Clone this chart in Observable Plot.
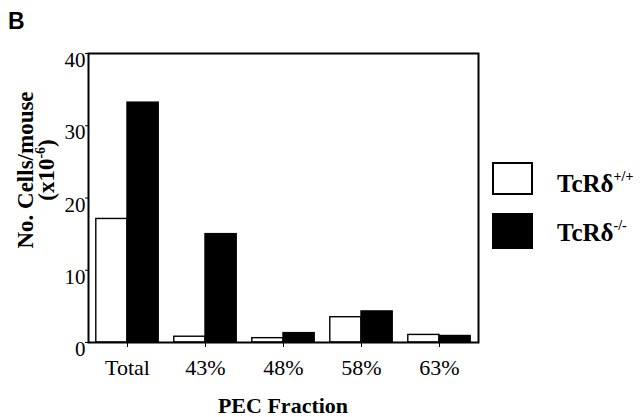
<!DOCTYPE html>
<html>
<head>
<meta charset="utf-8">
<script src="https://cdn.jsdelivr.net/npm/d3@7"></script>
<script src="https://cdn.jsdelivr.net/npm/@observablehq/plot@0.6"></script>
<style>
  html, body { margin: 0; padding: 0; background: white; }
</style>
</head>
<body>
<div id="chart"></div>
<script>
const categories = ["Total", "43%", "48%", "58%", "63%"];
const genotypes = ["+/+", "-/-"];
const wildType = [17.1, 0.8, 0.6, 3.5, 1.05];
const knockout = [33.2, 15.0, 1.3, 4.3, 0.9];
const yTicks = [0, 10, 20, 30, 40];

const rows = [];
categories.forEach((c, i) => {
  rows.push({i, cat: c, geno: genotypes[0], value: wildType[i]});
  rows.push({i, cat: c, geno: genotypes[1], value: knockout[i]});
});
const half = 0.4;

const plot = Plot.plot({
  width: 640,
  height: 417,
  marginLeft: 88,
  marginRight: 162,
  marginTop: 53,
  marginBottom: 75,
  style: {fontFamily: "Liberation Serif", fontSize: "22px", background: "white", color: "black"},
  x: {type: "linear", domain: [-0.5, categories.length - 0.5]},
  y: {domain: [0, 40]},
  color: {domain: genotypes, range: ["white", "black"]},
  marks: [
    Plot.rectY(rows, {
      x1: d => d.geno === genotypes[0] ? d.i - half : d.i,
      x2: d => d.geno === genotypes[0] ? d.i : d.i + half,
      y: "value",
      fill: "geno",
      stroke: "black",
      strokeWidth: 1.4
    }),
    Plot.frame({stroke: "black", strokeWidth: 2}),
    Plot.axisX({
      ticks: categories.map((c, i) => i),
      tickFormat: i => categories[i],
      tickSize: 5,
      tickPadding: 12,
      label: null,
      fontSize: 22
    }),
    Plot.axisY({ticks: yTicks, tickSize: 3, tickFormat: () => "", label: null}),
    Plot.axisY({ticks: yTicks, tickSize: 0, tickPadding: 3, dy: 7, label: null, fontSize: 21})
  ]
});

const svg = d3.select(plot);

// Panel letter
svg.append("text")
  .attr("x", 8).attr("y", 29)
  .attr("text-anchor", "start")
  .attr("font-family", "Liberation Sans").attr("font-weight", "bold")
  .attr("font-size", 23).attr("fill", "black")
  .text("B");

// Y label (two lines)
const yl = svg.append("g").attr("transform", "translate(0,170) rotate(-90)")
  .attr("font-family", "Liberation Serif").attr("font-weight", "bold")
  .attr("font-size", 23).attr("fill", "black").attr("text-anchor", "middle");
yl.append("text").attr("x", 0).attr("y", 33).text("No. Cells/mouse");
const l2 = yl.append("text").attr("x", 0).attr("y", 54);
l2.append("tspan").text("(x10");
l2.append("tspan").attr("font-size", 14).attr("dy", -9).text("-6");
l2.append("tspan").attr("dy", 9).text(")");

// X label
svg.append("text")
  .attr("x", 283).attr("y", 413)
  .attr("text-anchor", "middle")
  .attr("font-family", "Liberation Serif").attr("font-weight", "bold")
  .attr("font-size", 22).attr("fill", "black")
  .text("PEC Fraction");

// Legend
const fills = ["white", "black"];
const boxY = [163, 214];
const baseY = [192, 241];
genotypes.forEach((g, k) => {
  svg.append("rect")
    .attr("x", 493).attr("y", boxY[k])
    .attr("width", 39).attr("height", 31 + k * 3)
    .attr("fill", fills[k]).attr("stroke", "black").attr("stroke-width", 2);
  const t = svg.append("text")
    .attr("x", 557).attr("y", baseY[k])
    .attr("text-anchor", "start")
    .attr("font-family", "Liberation Serif").attr("font-weight", "bold")
    .attr("font-size", 25).attr("fill", "black");
  t.append("tspan").text("TcR\u03b4");
  t.append("tspan").attr("font-size", 14).attr("dy", -11).text(g);
});

document.getElementById("chart").appendChild(plot);
</script>
</body>
</html>
